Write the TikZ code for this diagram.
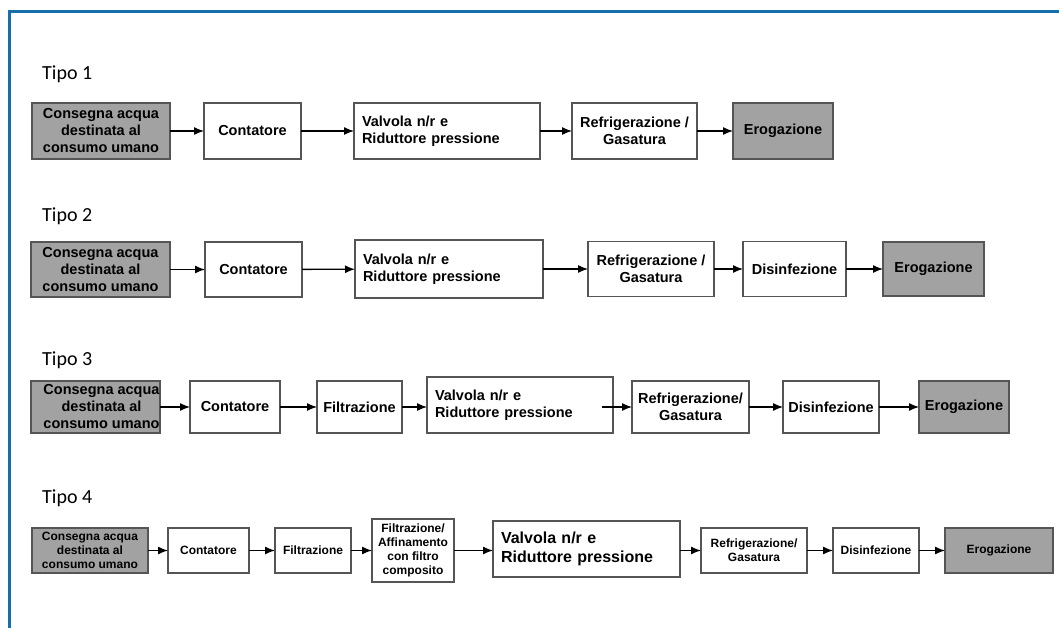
\documentclass[tikz,border=0pt]{standalone}
\usepackage{fontspec}
\setmainfont{Liberation Sans}
\newfontfamily\tipofont{Carlito}
\usetikzlibrary{arrows.meta}
\definecolor{frameblue}{RGB}{22,110,170}
\definecolor{boxline}{RGB}{85,85,85}
\definecolor{boxgray}{RGB}{162,162,162}
\tikzset{
  stepbox/.style={draw=boxline, line width=1.8pt, fill=white, align=center,
    inner sep=1pt, outer sep=0pt, font=\bfseries\fontsize{14.5}{17}\selectfont},
  endbox/.style={stepbox, fill=boxgray},
  smallbox/.style={stepbox, font=\bfseries\fontsize{12}{14}\selectfont},
  smallend/.style={smallbox, fill=boxgray},
  valvebox/.style={stepbox, align=left, inner xsep=8pt},
  flow/.style={line width=1.3pt, -{Latex[length=10pt,width=8pt]}},
  tipo/.style={anchor=base west, inner sep=0pt, font=\tipofont\fontsize{20}{24}\selectfont},
  frameline/.style={draw=frameblue, line width=3pt}
}
\begin{document}
\begin{tikzpicture}[x=1pt, y=-1pt]
\useasboundingbox (0,0) rectangle (1059,628);
% outer frame, top and left edges
\draw[frameline] (9,628) -- (9,12) -- (1059,12);

% ---------- Tipo 1 ----------
\node[tipo] (t1) at (42,80) {Tipo 1};
\node[endbox, minimum width=138, minimum height=56] (a1) at (101,131)
  {Consegna acqua\\destinata al\\consumo umano};
\node[stepbox, minimum width=97, minimum height=56] (c1) at (252.5,131) {Contatore};
\node[valvebox, text width=170, minimum height=56] (v1) at (447,131)
  {Valvola n/r e\\Riduttore pressione};
\node[stepbox, minimum width=125, minimum height=56] (r1) at (634.5,131)
  {Refrigerazione /\\Gasatura};
\node[endbox, minimum width=100, minimum height=56] (e1) at (783,131) {Erogazione};
\draw[flow] (a1) -- (c1);
\draw[flow] (c1) -- (v1);
\draw[flow] (v1) -- (r1);
\draw[flow] (r1) -- (e1);

% ---------- Tipo 2 ----------
\node[tipo] (t2) at (42,222) {Tipo 2};
\node[endbox, minimum width=139, minimum height=55] (a2) at (100.5,269.5)
  {Consegna acqua\\destinata al\\consumo umano};
\node[stepbox, minimum width=97, minimum height=55] (c2) at (253.5,269.5) {Contatore};
\node[valvebox, text width=172, minimum height=58] (v2) at (449,269)
  {Valvola n/r e\\Riduttore pressione};
\node[stepbox, minimum width=126, minimum height=55] (r2) at (651,269)
  {Refrigerazione /\\Gasatura};
\node[stepbox, minimum width=103, minimum height=55] (d2) at (794.5,269) {Disinfezione};
\node[endbox, minimum width=101, minimum height=54] (e2) at (933.5,269) {Erogazione};
\draw[flow] (a2) -- (c2);
\draw[flow] (c2) -- (v2);
\draw[flow] (v2) -- (r2);
\draw[flow] (r2) -- (d2);
\draw[flow] (d2) -- (e2);

% ---------- Tipo 3 ----------
\node[tipo] (t3) at (42,365) {Tipo 3};
\node[endbox, minimum width=129, minimum height=52] (a3) at (95.5,407) {};
\node[align=center, inner sep=0pt, font=\bfseries\fontsize{14.5}{17}\selectfont]
  (a3t) at ([xshift=6pt]a3.center) {Consegna acqua\\destinata al\\consumo umano};
\node[stepbox, minimum width=90, minimum height=52] (c3) at (235,407) {Contatore};
\node[stepbox, minimum width=85, minimum height=52] (f3) at (359.5,407) {Filtrazione};
\node[valvebox, text width=170, minimum height=56] (v3) at (520,405)
  {Valvola n/r e\\Riduttore pressione};
\node[stepbox, minimum width=117, minimum height=52] (r3) at (690.5,407)
  {Refrigerazione/\\Gasatura};
\node[stepbox, minimum width=96, minimum height=52] (d3) at (831,407) {Disinfezione};
\node[endbox, minimum width=90, minimum height=52] (e3) at (964,407) {Erogazione};
\draw[flow] (a3) -- (c3);
\draw[flow] (c3) -- (f3);
\draw[flow] (f3) -- (v3.west |- f3);
\draw[flow] ([xshift=-11pt]v3.east |- r3) -- (r3);
\draw[flow] (r3) -- (d3);
\draw[flow] (d3) -- (e3);

% ---------- Tipo 4 ----------
\node[tipo] (t4) at (42,503) {Tipo 4};
\node[smallend, minimum width=116, minimum height=45] (a4) at (90,550.5)
  {Consegna acqua\\destinata al\\consumo umano};
\node[smallbox, minimum width=81, minimum height=45] (c4) at (208.5,550.5) {Contatore};
\node[smallbox, minimum width=76, minimum height=45] (f4) at (313,550.5) {Filtrazione};
\node[smallbox, minimum width=82, minimum height=63] (g4) at (413,550.5)
  {Filtrazione/\\Affinamento\\con filtro\\composito};
\node[valvebox, font=\bfseries\fontsize{16}{19}\selectfont, text width=171, minimum height=56]
  (v4) at (586.5,549) {Valvola n/r e\\Riduttore pressione};
\node[smallbox, minimum width=106, minimum height=45] (r4) at (754,550.5)
  {Refrigerazione/\\Gasatura};
\node[smallbox, minimum width=86, minimum height=45] (d4) at (876,550.5) {Disinfezione};
\node[smallend, minimum width=108, minimum height=45] (e4) at (999,550.5) {Erogazione};
\draw[flow] (a4) -- (c4);
\draw[flow] (c4) -- (f4);
\draw[flow] (f4) -- (g4);
\draw[flow] (g4) -- (v4.west |- g4);
\draw[flow] (v4.east |- r4) -- (r4);
\draw[flow] (r4) -- (d4);
\draw[flow] (d4) -- (e4);
\end{tikzpicture}
\end{document}
